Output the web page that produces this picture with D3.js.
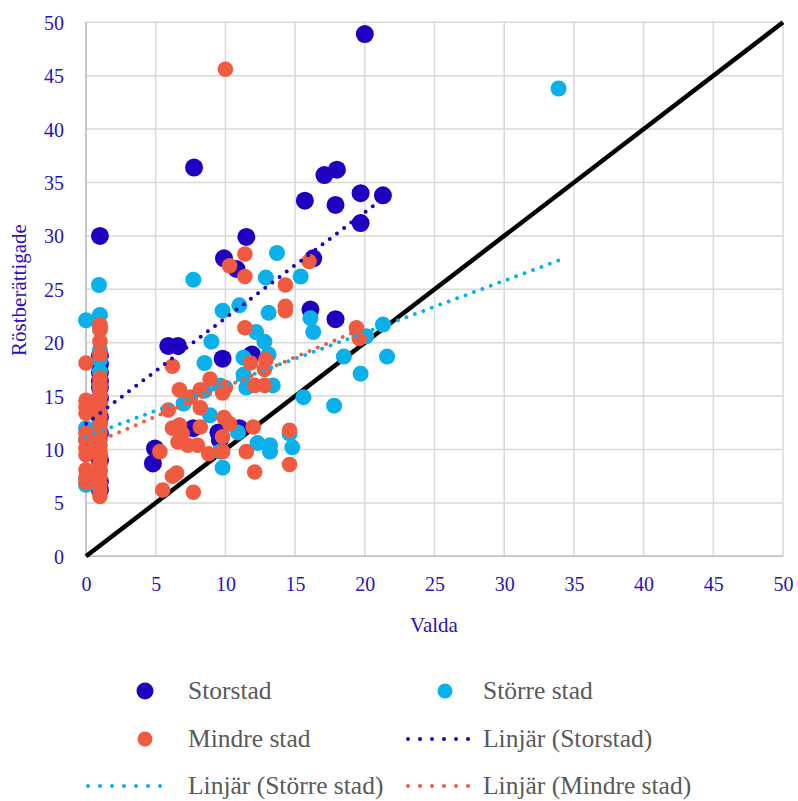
<!DOCTYPE html>
<html><head><meta charset="utf-8">
<script src="https://cdn.jsdelivr.net/npm/d3@7"></script>
<style>body{margin:0;background:#fff}svg{display:block}text{font-family:"Liberation Serif",serif}</style>
</head><body><svg id="c" width="798" height="801"></svg>
<script>
const ticks = [0,5,10,15,20,25,30,35,40,45,50];
const storstadX = [20.0,7.75,17.1,18.0,15.7,17.9,19.7,21.3,19.7,11.5,1,9.9,16.3,10.8,16.1,17.9,5.9,6.6,9.8,11.9,7.7,9.5,9.6,11.0,4.95,4.8,1,1,1,1,1,1,1,1,1,1,1];
const storstadY = [48.9,36.4,35.7,36.2,33.3,32.9,34.0,33.8,31.2,29.9,30.0,27.9,27.9,26.9,23.1,22.2,19.7,19.7,18.5,18.9,12.0,11.6,10.9,12.0,10.1,8.7,18.8,18.0,17.2,16.4,15.8,14.8,13.0,11.5,9.0,7.0,6.2];
const storreX = [33.9,0.93,1,0,7.7,13.7,12.9,15.4,11.0,9.8,13.1,16.1,16.3,12.2,12.8,9.0,11.3,13.1,8.5,11.3,13.4,9.6,7.0,8.9,10.9,12.3,13.2,13.2,9.8,9.6,20.1,21.3,18.5,21.6,19.7,15.6,17.8,14.6,14.8,11.5,8.5,0,0,0,0,1,1,1,1,1,1,1,1,1,1,1];
const storreY = [43.8,25.4,22.6,22.1,25.9,28.4,26.1,26.2,23.5,23.0,22.8,22.3,21.0,21.0,20.1,20.1,18.6,18.9,18.1,17.0,16.0,16.0,14.3,13.2,11.6,10.6,10.4,9.8,8.3,9.8,20.6,21.7,18.7,18.7,17.1,14.9,14.1,11.5,10.2,15.8,15.5,12.0,10.9,7.3,6.7,21.4,19.3,18.4,17.3,16.0,15.0,14.2,12.5,11.0,9.5,8.0];
const mindreX = [10.0,11.4,10.3,11.4,16.0,14.3,14.3,14.3,11.4,6.2,8.9,11.8,12.9,12.8,12.1,12.8,6.7,7.5,8.2,9.8,10.0,5.9,8.2,6.2,6.7,6.9,8.2,6.6,7.3,8.0,9.8,9.8,8.8,12.0,5.3,6.5,6.2,5.5,7.7,11.5,12.1,19.4,19.6,14.6,14.6,10.3,9.9,
  0,0,0,0,0,0,0,0,0,0,0,
  1,1,1,1,1,1,1,1,1,1,1,1,1,1,1,1,1,1,1,1,1,1,1];
const mindreY = [45.6,28.3,27.2,26.2,27.6,25.4,23.4,23.0,21.4,17.8,16.6,18.1,18.4,17.5,16.0,16.0,15.6,14.9,15.6,15.3,15.8,13.7,13.9,12.0,12.3,11.5,12.1,10.7,10.4,10.4,11.2,9.8,9.6,12.1,9.8,7.8,7.5,6.2,6.0,9.8,7.9,21.4,20.4,11.8,8.6,12.4,13.0,
  18.1,14.6,14.0,13.4,11.5,10.9,10.1,9.5,8.1,7.4,6.9,
  21.7,21.2,20.1,18.9,16.7,16.2,15.6,15.0,14.3,13.6,13.0,12.3,11.6,11.0,10.4,9.8,9.2,8.6,8.0,7.4,6.8,6.2,5.6];
// trend line endpoints [x0, x1], [y0, y1]
const trendStorstadX = [0, 21.3], trendStorstadY = [12.4, 33.5];
const trendStorreX = [0, 33.9], trendStorreY = [11.2, 27.7];
const trendMindreX = [0, 19.6], trendMindreY = [10.3, 21.2];
const diagX = [0, 50], diagY = [0, 50];
const legendLabels = ["Storstad","Större stad","Mindre stad","Linjär (Storstad)","Linjär (Större stad)","Linjär (Mindre stad)"];

const cBlue = "#2000C0", cCyan = "#0AB0EA", cOrange = "#F05A40", cText = "#2A10C0", cLeg = "#595959";
const svg = d3.select("#c");
const x = d3.scaleLinear().domain([0,50]).range([86,783]);
const y = d3.scaleLinear().domain([0,50]).range([556.3,22.3]);

// grid
const g = svg.append("g");
g.selectAll(".vx").data(ticks).join("line").attr("x1",d=>x(d)).attr("x2",d=>x(d)).attr("y1",y(0)).attr("y2",y(50)).attr("stroke","#d9d9d9").attr("stroke-width",1.5);
g.selectAll(".hy").data(ticks).join("line").attr("class","hy").attr("y1",d=>y(d)).attr("y2",d=>y(d)).attr("x1",x(0)).attr("x2",x(50)).attr("stroke","#d9d9d9").attr("stroke-width",1.5);
g.append("line").attr("x1",x(0)).attr("x2",x(0)).attr("y1",y(0)).attr("y2",y(50)).attr("stroke","#bfbfbf").attr("stroke-width",1.5);
g.append("line").attr("x1",x(0)).attr("x2",x(50)).attr("y1",y(0)).attr("y2",y(0)).attr("stroke","#bfbfbf").attr("stroke-width",1.5);

// axes
const xa = svg.append("g").attr("transform",`translate(0,${y(0)})`).call(d3.axisBottom(x).tickValues(ticks).tickSize(0).tickPadding(21));
const ya = svg.append("g").attr("transform",`translate(${x(0)},0)`).call(d3.axisLeft(y).tickValues(ticks).tickSize(0).tickPadding(22));
[xa,ya].forEach(a=>{a.select(".domain").remove(); a.selectAll("text").attr("font-family","Liberation Serif").attr("font-size",20).attr("fill",cText);});
ya.selectAll("text").attr("dy","0.35em");

svg.append("text").attr("x",434).attr("y",632).attr("text-anchor","middle").attr("font-size",21).attr("fill",cText).text("Valda");
svg.append("text").attr("transform","translate(26,290) rotate(-90)").attr("text-anchor","middle").attr("font-size",21).attr("fill",cText).text("Röstberättigade");

// diagonal
const line = d3.line().x(d=>x(d[0])).y(d=>y(d[1]));
svg.append("path").attr("d",line(d3.zip(diagX,diagY))).attr("stroke","#000").attr("stroke-width",4.5).attr("fill","none");

// points
function pts(xs, ys, col, r){
  svg.append("g").selectAll("circle").data(d3.zip(xs,ys)).join("circle")
    .attr("cx",d=>x(d[0])).attr("cy",d=>y(d[1])).attr("r",r).attr("fill",col);
}
pts(storstadX, storstadY, cBlue, 9);
pts(storreX, storreY, cCyan, 8);
pts(mindreX, mindreY, cOrange, 7.8);

// trend lines
function trend(xs, ys, col){
  svg.append("path").attr("d",line(d3.zip(xs,ys))).attr("stroke",col).attr("stroke-width",4)
    .attr("stroke-linecap","round").attr("stroke-dasharray","0 9").attr("fill","none");
}
trend(trendStorstadX, trendStorstadY, cBlue);
trend(trendStorreX, trendStorreY, cCyan);
trend(trendMindreX, trendMindreY, cOrange);

// legend
const legend = [
  {type:"dot", col:cBlue, r:8.5, mx:145, tx:188, y:691},
  {type:"dot", col:cCyan, r:7.5, mx:445, tx:483, y:691},
  {type:"dot", col:cOrange, r:7.5, mx:145, tx:188, y:739},
  {type:"line", col:cBlue, x0:408, x1:480, tx:483, y:739},
  {type:"line", col:cCyan, x0:88, x1:172, tx:188, y:786},
  {type:"line", col:cOrange, x0:408, x1:480, tx:483, y:786}
];
const lg = svg.append("g");
legend.forEach((l,i)=>{
  if(l.type==="dot") lg.append("circle").attr("cx",l.mx).attr("cy",l.y).attr("r",l.r).attr("fill",l.col);
  else lg.append("line").attr("x1",l.x0).attr("x2",l.x1).attr("y1",l.y).attr("y2",l.y).attr("stroke",l.col).attr("stroke-width",4).attr("stroke-linecap","round").attr("stroke-dasharray","0 12");
  lg.append("text").attr("x",l.tx).attr("y",l.y).attr("dy","0.3em").attr("font-size",25.5).attr("fill",cLeg).text(legendLabels[i]);
});
</script></body></html>
